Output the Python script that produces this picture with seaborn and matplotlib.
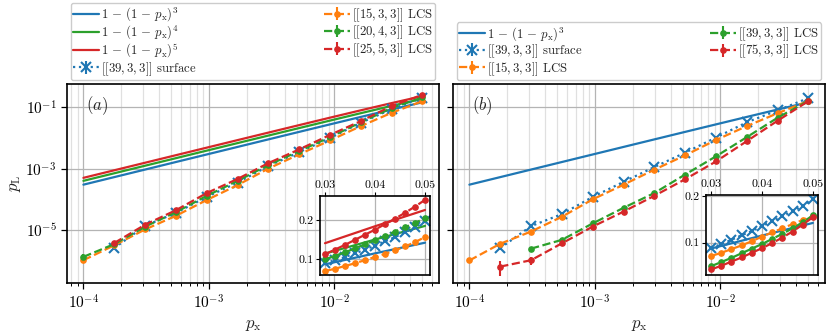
import numpy as np
import matplotlib
matplotlib.use("Agg")
import matplotlib.pyplot as plt
import matplotlib.ticker as mticker
import seaborn as sns

# ---------------- data ----------------
nan = np.nan
px = [1.0e-4, 1.76e-4, 3.1e-4, 5.44e-4, 9.6e-4, 1.69e-3, 2.97e-3, 5.23e-3,
      9.2e-3, 1.62e-2, 2.85e-2, 5.0e-2]

# theory curves 1-(1-px)^n at px
theory3 = [2.9997e-4, 5.279e-4, 9.297e-4, 1.6311e-3, 2.8772e-3, 5.0614e-3,
           8.8835e-3, 1.5608e-2, 2.7347e-2, 4.7817e-2, 8.3086e-2, 0.142625]
theory4 = [3.9994e-4, 7.0381e-4, 1.23942e-3, 2.17422e-3, 3.83447e-3, 6.74288e-3,
           1.1827e-2, 2.07565e-2, 3.62953e-2, 6.3242e-2, 0.109218, 0.185494]
theory5 = [4.999e-4, 8.7969e-4, 1.54904e-3, 2.71704e-3, 4.79079e-3, 8.4215e-3,
           1.47621e-2, 2.58779e-2, 4.51614e-2, 7.84178e-2, 0.1346057, 0.226219]

# panel (a)
surf_a = [nan, 2.6e-6, 1.38e-5, 3.6e-5, 1.2e-4, 3.5e-4, 1.2e-3, 3.4e-3, 9.8e-3, 3.1e-2, 8.5e-2, 0.200]
lcs15_a = [1.05e-6, 3.2e-6, 1.05e-5, 2.9e-5, 9.5e-5, 2.9e-4, 1.0e-3, 2.9e-3, 8.2e-3, 2.4e-2, 6.5e-2, 0.155]
lcs20_a = [1.35e-6, 3.5e-6, 1.3e-5, 3.8e-5, 1.3e-4, 4.0e-4, 1.3e-3, 3.7e-3, 1.05e-2, 3.2e-2, 9.3e-2, 0.205]
lcs25_a = [nan, 3.8e-6, 1.5e-5, 4.4e-5, 1.6e-4, 4.6e-4, 1.5e-3, 4.2e-3, 1.24e-2, 3.5e-2, 0.108, 0.250]
relerr_a = [0.2, 0.15, 0.1, 0.08, 0.05, 0.04, 0.03, 0.02, 0.015, 0.01, 0.01, 0.01]

# panel (b)
surf_b = [nan, 2.6e-6, 1.35e-5, 3.3e-5, 1.2e-4, 3.7e-4, 1.12e-3, 3.3e-3, 1.02e-2, 3.2e-2, 7.8e-2, 0.195]
lcs15_b = [1.03e-6, 3.6e-6, 9.0e-6, 2.7e-5, 1.0e-4, 3.0e-4, 9.2e-4, 2.7e-3, 8.5e-3, 2.4e-2, 6.3e-2, 0.157]
lcs39_b = [nan, nan, 2.5e-6, 4.8e-6, 1.65e-5, 5.3e-5, 1.6e-4, 6.4e-4, 2.5e-3, 1.05e-2, 4.5e-2, 0.159]
lcs75_b = [nan, 6.5e-7, 1.05e-6, 3.7e-6, 1.3e-5, 4.0e-5, 1.3e-4, 4.5e-4, 1.7e-3, 7.8e-3, 3.6e-2, 0.155]
relerr_b = [0.2, 0.15, 0.12, 0.08, 0.05, 0.04, 0.03, 0.02, 0.015, 0.01, 0.01, 0.01]
relerr_75b = [0.2, 0.5, 0.3, 0.15, 0.08, 0.05, 0.03, 0.02, 0.015, 0.01, 0.01, 0.01]

# insets
ins_x = [0.030, 0.032, 0.034, 0.036, 0.038, 0.040, 0.042, 0.044, 0.046, 0.048, 0.050]
ins_th_x = [0.030, 0.040, 0.050]
ins_th3 = [0.0873, 0.1153, 0.1426]
ins_th4 = [0.1147, 0.1507, 0.1855]
ins_th5 = [0.1413, 0.1846, 0.2262]

ins_surf_a = [0.090, 0.098, 0.106, 0.115, 0.125, 0.135, 0.146, 0.157, 0.169, 0.182, 0.197]
ins_lcs15_a = [0.070, 0.076, 0.083, 0.090, 0.098, 0.106, 0.114, 0.123, 0.133, 0.144, 0.157]
ins_lcs20_a = [0.100, 0.109, 0.118, 0.128, 0.138, 0.149, 0.160, 0.171, 0.182, 0.193, 0.205]
ins_lcs25_a = [0.113, 0.125, 0.137, 0.150, 0.163, 0.176, 0.190, 0.204, 0.219, 0.235, 0.252]

ins_surf_b = [0.088, 0.097, 0.106, 0.116, 0.125, 0.136, 0.146, 0.157, 0.168, 0.180, 0.194]
ins_lcs15_b = [0.071, 0.078, 0.086, 0.094, 0.103, 0.113, 0.122, 0.131, 0.140, 0.149, 0.157]
ins_lcs39_b = [0.049, 0.058, 0.067, 0.077, 0.087, 0.097, 0.108, 0.119, 0.131, 0.144, 0.159]
ins_lcs75_b = [0.042, 0.050, 0.059, 0.068, 0.078, 0.088, 0.099, 0.111, 0.124, 0.139, 0.155]

lab_th3 = r"$1\,-\,(1\,-\,p_\mathrm{x})^3$"
lab_th4 = r"$1\,-\,(1\,-\,p_\mathrm{x})^4$"
lab_th5 = r"$1\,-\,(1\,-\,p_\mathrm{x})^5$"
lab_surf = r"$[[39,3,3]]$ surface"
lab_15 = r"$[[15,3,3]]$ LCS"
lab_20 = r"$[[20,4,3]]$ LCS"
lab_25 = r"$[[25,5,3]]$ LCS"
lab_39 = r"$[[39,3,3]]$ LCS"
lab_75 = r"$[[75,3,3]]$ LCS"

C_BLUE, C_ORANGE, C_GREEN, C_RED = "#1f77b4", "#ff7f0e", "#2ca02c", "#d62728"

# ---------------- style ----------------
sns.set_theme(style="ticks")
plt.rcParams.update({
    "font.family": "serif",
    "font.serif": ["cmr10", "DejaVu Serif"],
    "mathtext.fontset": "cm",
    "axes.formatter.use_mathtext": True,
    "axes.unicode_minus": True,
    "axes.edgecolor": "black",
    "xtick.color": "black",
    "ytick.color": "black",
})

fig = plt.figure(figsize=(8.3, 3.32), dpi=100)
ax_a = fig.add_axes([67 / 830, 1 - 283 / 332, 372 / 830, 199 / 332])
ax_b = fig.add_axes([453 / 830, 1 - 283 / 332, 372 / 830, 199 / 332], sharey=ax_a)


def theory(ax, x, y, color, label):
    sns.lineplot(x=x, y=y, ax=ax, color=color, lw=1.6, label=label, legend=False,
                 estimator=None, sort=False)
    return ax.lines[-1]


def data(ax, x, y, rel, color, label, surface=False, ms=3.8):
    x = np.asarray(x, float)
    y = np.asarray(y, float)
    m = ~np.isnan(y)
    yerr = np.asarray(rel, float)[: len(y)] * y if rel is not None else None
    if surface:
        c = ax.errorbar(x[m], y[m], yerr=None if yerr is None else yerr[m], color=color,
                        marker="x", ms=6.5, mew=1.5, ls=":", lw=1.6, elinewidth=1.5,
                        capsize=0, label=label)
    else:
        c = ax.errorbar(x[m], y[m], yerr=None if yerr is None else yerr[m], color=color,
                        marker="o", ms=ms, ls="--", lw=1.6, elinewidth=1.5,
                        capsize=0, label=label)
    return c


def style_main(ax, show_ylab=True):
    ax.set_xscale("log")
    ax.set_yscale("log")
    ax.set_xlim(7.4e-5, 0.068)
    ax.set_ylim(10 ** -6.72, 10 ** -0.25)
    ax.yaxis.set_major_locator(mticker.FixedLocator([1e-5, 1e-3, 1e-1]))
    ax.yaxis.set_minor_locator(mticker.NullLocator())
    ax.xaxis.set_major_locator(mticker.LogLocator(base=10, numticks=10))
    ax.xaxis.set_minor_locator(mticker.LogLocator(base=10, subs=np.arange(2, 10), numticks=20))
    ax.xaxis.set_minor_formatter(mticker.NullFormatter())
    ax.grid(which="major", color="#b4b4b4", lw=0.9, zorder=0)
    ax.grid(which="minor", axis="x", color="#e0e0e0", lw=0.9, zorder=0)
    ax.set_axisbelow(True)
    for s in ax.spines.values():
        s.set_linewidth(1.2)
        s.set_color("black")
    ax.tick_params(which="major", direction="out", length=4, width=0.9, labelsize=11)
    ax.tick_params(which="minor", direction="out", length=2.5, width=0.7)
    ax.set_xlabel(r"$p_\mathrm{x}$", fontsize=12, labelpad=4)
    if show_ylab:
        ax.set_ylabel(r"$p_\mathrm{L}$", fontsize=12, labelpad=2)
    else:
        ax.tick_params(axis="y", labelleft=False)
        ax.set_ylabel("")


def style_inset(ax, ylim, yticks):
    ax.set_xlim(0.0290, 0.0510)
    ax.set_ylim(*ylim)
    ax.set_xticks([0.03, 0.04, 0.05])
    ax.set_yticks(yticks)
    ax.xaxis.set_major_formatter(mticker.FormatStrFormatter("%.2f"))
    ax.yaxis.set_major_formatter(mticker.FormatStrFormatter("%.1f"))
    ax.xaxis.tick_top()
    ax.tick_params(direction="out", length=3, width=0.8, labelsize=8.5, pad=1.5)
    ax.grid(which="major", color="#b4b4b4", lw=0.9)
    ax.set_axisbelow(True)
    ax.set_facecolor("white")
    for s in ax.spines.values():
        s.set_linewidth(1.2)
        s.set_color("black")
    ax.set_xlabel("")
    ax.set_ylabel("")


# ---------------- panel (a) ----------------
h3 = theory(ax_a, px, theory3, C_BLUE, lab_th3)
h4 = theory(ax_a, px, theory4, C_GREEN, lab_th4)
h5 = theory(ax_a, px, theory5, C_RED, lab_th5)
hs = data(ax_a, px, surf_a, relerr_a, C_BLUE, lab_surf, surface=True)
h15 = data(ax_a, px, lcs15_a, relerr_a, C_ORANGE, lab_15)
h20 = data(ax_a, px, lcs20_a, relerr_a, C_GREEN, lab_20)
h25 = data(ax_a, px, lcs25_a, relerr_a, C_RED, lab_25)
style_main(ax_a, True)
ax_a.text(0.05, 0.95, r"$(a)$", transform=ax_a.transAxes, ha="left", va="top", fontsize=12)

leg_kw = dict(loc="lower left", mode="expand", ncol=2, fontsize=9.2,
              borderaxespad=0.3, handlelength=2.0, handletextpad=0.15,
              labelspacing=0.0, borderpad=0.2, frameon=True, fancybox=True,
              edgecolor="0.8", framealpha=1.0)
ax_a.legend([h3, h4, h5, hs, h15, h20, h25],
            [lab_th3, lab_th4, lab_th5, lab_surf, lab_15, lab_20, lab_25],
            bbox_to_anchor=(0, 1.0, 1, 0.3), **leg_kw)

ins_a = fig.add_axes([320 / 830, 1 - 275 / 332, 110 / 830, 79 / 332])
sns.lineplot(x=ins_th_x, y=ins_th3, ax=ins_a, color=C_BLUE, lw=1.6, legend=False)
sns.lineplot(x=ins_th_x, y=ins_th4, ax=ins_a, color=C_GREEN, lw=1.6, legend=False)
sns.lineplot(x=ins_th_x, y=ins_th5, ax=ins_a, color=C_RED, lw=1.6, legend=False)
data(ins_a, ins_x, ins_surf_a, None, C_BLUE, None, surface=True)
data(ins_a, ins_x, ins_lcs15_a, None, C_ORANGE, None)
data(ins_a, ins_x, ins_lcs20_a, None, C_GREEN, None)
data(ins_a, ins_x, ins_lcs25_a, None, C_RED, None)
style_inset(ins_a, (0.06, 0.262), [0.1, 0.2])

# ---------------- panel (b) ----------------
hb3 = theory(ax_b, px, theory3, C_BLUE, lab_th3)
hbs = data(ax_b, px, surf_b, relerr_b, C_BLUE, lab_surf, surface=True)
hb15 = data(ax_b, px, lcs15_b, relerr_b, C_ORANGE, lab_15)
hb39 = data(ax_b, px, lcs39_b, relerr_b, C_GREEN, lab_39)
hb75 = data(ax_b, px, lcs75_b, relerr_75b, C_RED, lab_75)
style_main(ax_b, False)
ax_b.text(0.05, 0.95, r"$(b)$", transform=ax_b.transAxes, ha="left", va="top", fontsize=12)
ax_b.legend([hb3, hbs, hb15, hb39, hb75],
            [lab_th3, lab_surf, lab_15, lab_39, lab_75],
            bbox_to_anchor=(0, 1.0, 1, 0.3), **leg_kw)

ins_b = fig.add_axes([706 / 830, 1 - 275 / 332, 112 / 830, 80 / 332])
sns.lineplot(x=ins_th_x, y=ins_th3, ax=ins_b, color=C_BLUE, lw=1.6, legend=False)
data(ins_b, ins_x, ins_surf_b, None, C_BLUE, None, surface=True)
data(ins_b, ins_x, ins_lcs15_b, None, C_ORANGE, None)
data(ins_b, ins_x, ins_lcs39_b, None, C_GREEN, None)
data(ins_b, ins_x, ins_lcs75_b, None, C_RED, None)
style_inset(ins_b, (0.03, 0.203), [0.1, 0.2])

fig.savefig("out.png", dpi=100)
